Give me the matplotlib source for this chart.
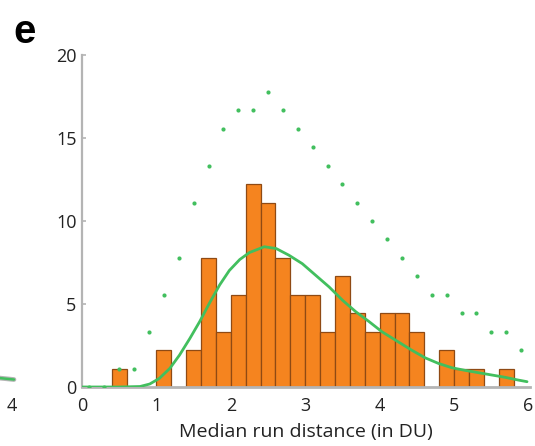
import matplotlib
matplotlib.use("Agg")
import matplotlib.pyplot as plt

ORANGE = "#f5841f"
EDGE = "#8f4a14"
GREEN = "#42bf5e"
GRAY = "#b4b4b4"
TEXT = "#222222"
FONT = "Open Sans"

# histogram: bin edges every 0.2 DU, height in % of runs
bin_left = [0.4, 1.0, 1.4, 1.6, 1.8, 2.0, 2.2, 2.4, 2.6, 2.8, 3.0, 3.2, 3.4,
            3.6, 3.8, 4.0, 4.2, 4.4, 4.8, 5.0, 5.2, 5.6]
bin_pct = [1.11, 2.22, 2.22, 7.78, 3.33, 5.56, 12.22, 11.11, 7.78, 5.56, 5.56,
           3.33, 6.67, 4.44, 3.33, 4.44, 4.44, 3.33, 2.22, 1.11, 1.11, 1.11]
bin_width = 0.2

# dotted series at bin centres
dot_x = [0.1, 0.3, 0.5, 0.7, 0.9, 1.1, 1.3, 1.5, 1.7, 1.9, 2.1, 2.3, 2.5, 2.7,
         2.9, 3.1, 3.3, 3.5, 3.7, 3.9, 4.1, 4.3, 4.5, 4.7, 4.9, 5.1, 5.3, 5.5,
         5.7, 5.9]
dot_y = [0, 0, 1.11, 1.11, 3.33, 5.56, 7.78, 11.11, 13.33, 15.56, 16.67, 16.67,
         17.78, 16.67, 15.56, 14.44, 13.33, 12.22, 11.11, 10.0, 8.89, 7.78,
         6.67, 5.56, 5.56, 4.44, 4.44, 3.33, 3.33, 2.22]

# fitted curve
fit_x = [0, 0.5, 0.78, 0.91, 1.04, 1.18, 1.31, 1.45, 1.58, 1.71, 1.85, 1.98,
         2.12, 2.25, 2.45, 2.61, 2.78, 2.96, 3.14, 3.32, 3.50, 3.68, 3.86,
         4.03, 4.21, 4.43, 4.61, 4.79, 4.97, 5.15, 5.33, 5.51, 5.69, 5.86,
         5.98]
fit_y = [0, 0, 0.03, 0.18, 0.52, 1.12, 1.92, 2.93, 3.93, 5.03, 6.15, 7.02,
         7.68, 8.1, 8.45, 8.34, 7.94, 7.43, 6.73, 6.03, 5.23, 4.53, 3.93,
         3.33, 2.83, 2.22, 1.76, 1.42, 1.16, 1.0, 0.86, 0.72, 0.58, 0.42,
         0.32]

yticks = [0, 5, 10, 15, 20]
xticks = [0, 1, 2, 3, 4, 5, 6]

# cropped neighbour panel on the left edge
prev_x = [3.7, 3.85, 4.02]
prev_y = [0.62, 0.55, 0.45]
prev_dot_x = [3.75]
prev_dot_y = [2.1]

fig = plt.figure(figsize=(5.35, 4.46), dpi=100)
fig.patch.set_facecolor("white")

# ── neighbour panel fragment ──
ax0 = fig.add_axes([-0.6955, 59 / 446, 0.727, 332 / 446])
ax0.set_xlim(0, 4.05)
ax0.set_ylim(0, 20)
ax0.plot(prev_x, prev_y, color=GRAY, lw=3.4, solid_capstyle="round")
ax0.plot(prev_x, prev_y, color=GREEN, lw=1.8, solid_capstyle="round")
ax0.plot(prev_dot_x, prev_dot_y, "o", color=GREEN, ms=3, mec="none")
ax0.set_xticks([4])
ax0.set_xticklabels(["4"], fontsize=13, color=TEXT, family=FONT)
ax0.tick_params(axis="x", length=0, pad=7)
ax0.set_yticks([])
for sp in ax0.spines.values():
    sp.set_visible(False)

# ── main panel ──
ax = fig.add_axes([82 / 535, 59 / 446, 448 / 535, 332 / 446])
ax.bar(bin_left, bin_pct, width=bin_width, align="edge",
       color=ORANGE, edgecolor=EDGE, linewidth=0.9, zorder=2)
ax.plot(fit_x, fit_y, color=GREEN, lw=2.0, zorder=3,
        solid_joinstyle="round", solid_capstyle="round")
ax.plot(dot_x, dot_y, "o", color=GREEN, ms=3, mec="none", zorder=4)

ax.set_xlim(0, 6.02)
ax.set_ylim(0, 20)
ax.set_xticks(xticks)
ax.set_yticks(yticks)
ax.set_xticklabels([str(t) for t in xticks], fontsize=13, color=TEXT, family=FONT)
ax.set_yticklabels([str(t) for t in yticks], fontsize=13, color=TEXT, family=FONT)
ax.tick_params(axis="x", length=0, pad=7)
ax.tick_params(axis="y", direction="in", length=3, width=1.2, color=GRAY, pad=4)
ax.set_xlabel("Median run distance (in DU)", fontsize=14, color=TEXT,
              family=FONT, labelpad=6)

for sp in ("top", "right"):
    ax.spines[sp].set_visible(False)
ax.spines["left"].set_color(GRAY)
ax.spines["left"].set_linewidth(1.6)
ax.spines["bottom"].set_color(GRAY)
ax.spines["bottom"].set_linewidth(2.0)

fig.text(13 / 535, 1 - 43 / 446, "e", fontsize=29, weight="bold",
         family="Liberation Sans", color="black", va="baseline", ha="left")

fig.savefig("out.png", dpi=100, facecolor="white")
